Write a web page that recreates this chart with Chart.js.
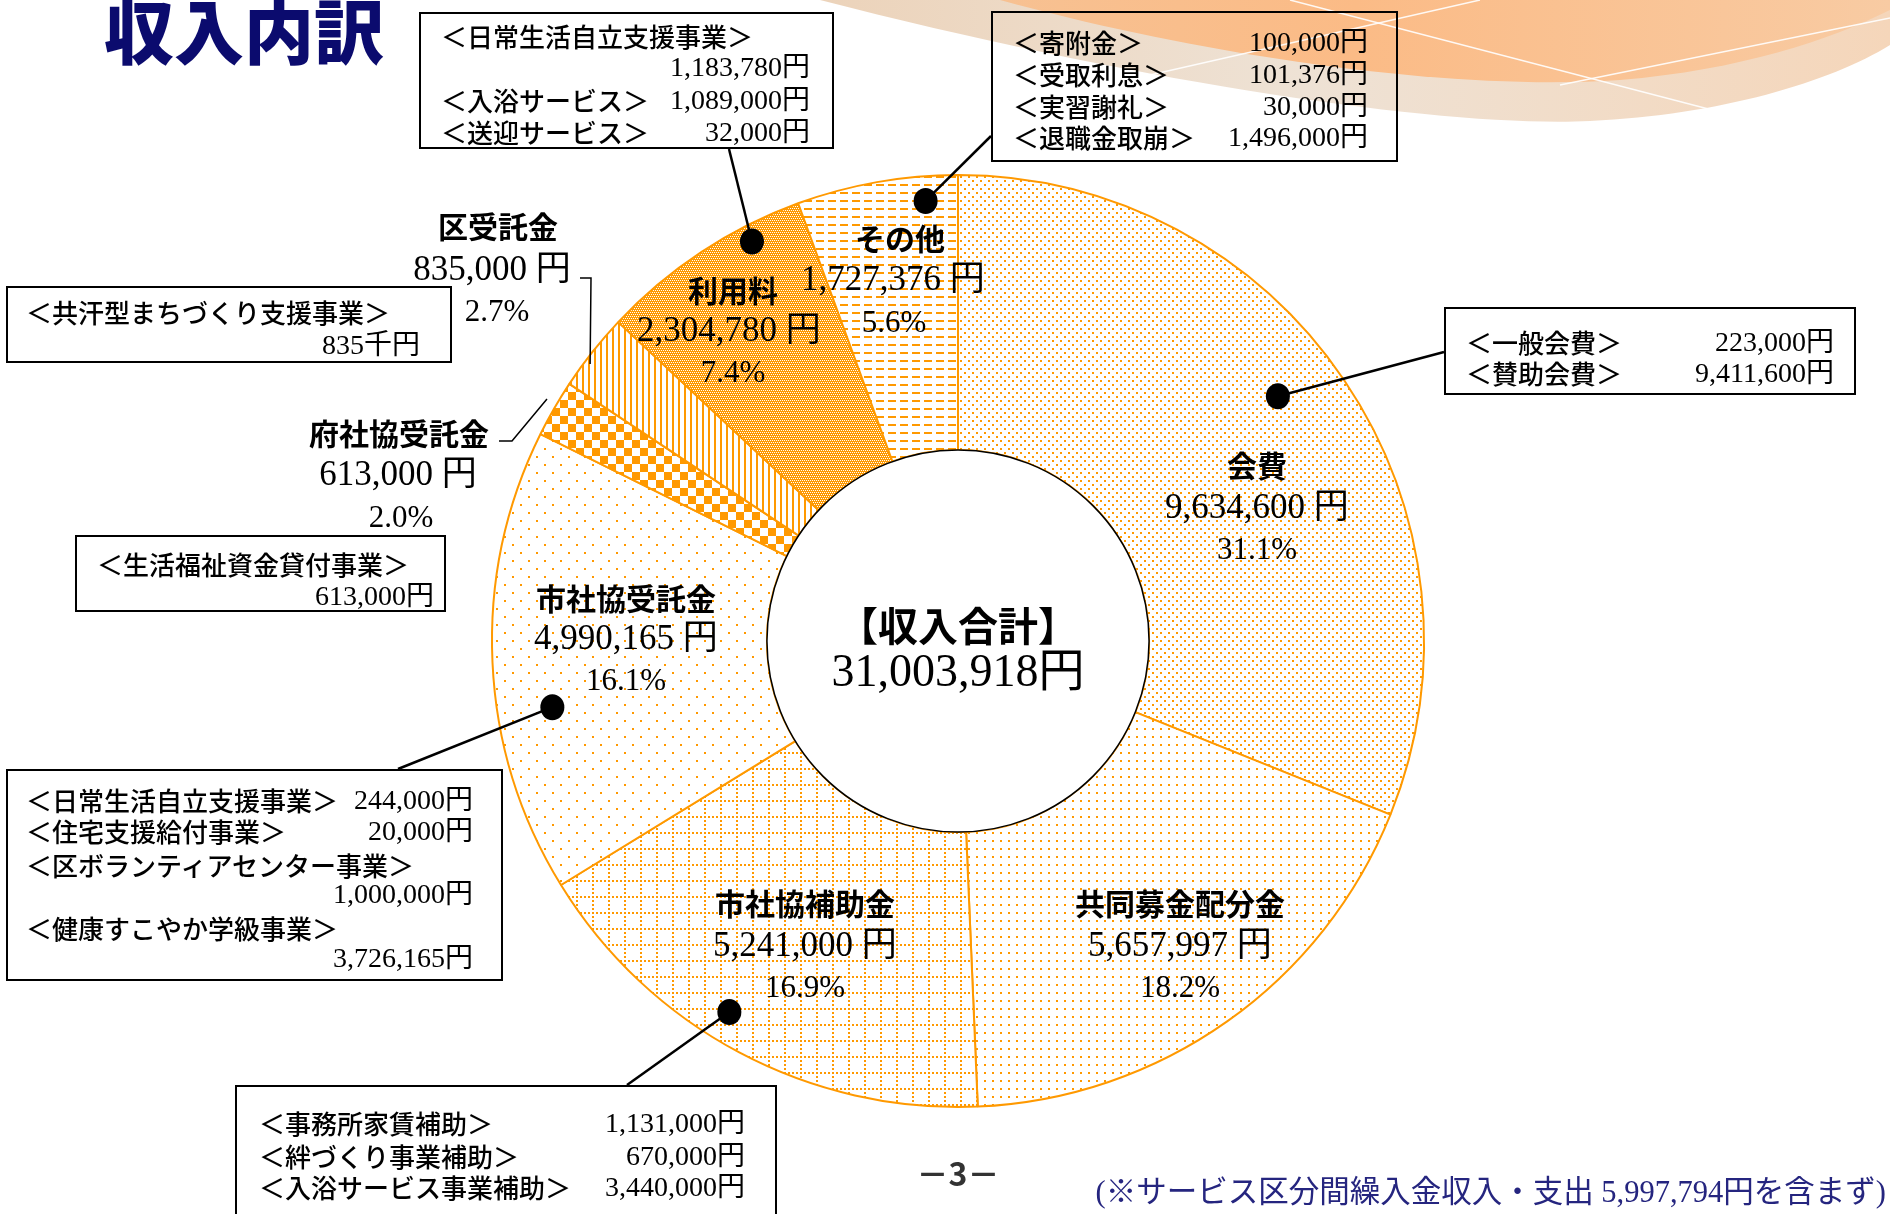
<!DOCTYPE html>
<html lang="ja">
<head>
<meta charset="utf-8">
<title>収入内訳</title>
<script src="https://cdn.jsdelivr.net/npm/chart.js@4.4.1/dist/chart.umd.min.js"></script>
<style>
  html, body { margin: 0; padding: 0; background: #fff; }
  #page { position: relative; width: 1890px; height: 1214px; overflow: hidden;
          font-family: "Noto Sans CJK JP", sans-serif; color: #000; }
  #chart { position: absolute; left: 0; top: 0; }
  .t { position: absolute; white-space: nowrap; line-height: 1; }
  .c { transform: translate(-50%, -50%); }
  .num { font-family: "Liberation Serif", "Noto Sans CJK JP", serif; }
  .name { font-weight: 700; font-size: 30px; }
  .val { font-size: 35px; }
  .pct { font-size: 31px; }
  .box { position: absolute; border: 2px solid #000; box-sizing: border-box; }
  .box .lab { position: absolute; transform: translateY(-50%); font-size: 26px; font-weight: 500; white-space: nowrap; line-height: 1; }
  .box .amt { position: absolute; transform: translateY(-50%); font-size: 28px; white-space: nowrap; line-height: 1; }
  #title { left: 104px; top: -6px; font-size: 70px; font-weight: 900; color: #0b0b6e; }
</style>
</head>
<body>
<div id="page">
  <canvas id="chart" width="1890" height="1214"></canvas>
  <div id="title" class="t">収入内訳</div>
</div>
<script>
  'use strict';

  // ---------------------------------------------------------------
  // Data
  // ---------------------------------------------------------------
  const categories = ['会費', '共同募金配分金', '市社協補助金', '市社協受託金', '府社協受託金', '区受託金', '利用料', 'その他'];
  const amounts = [9634600, 5657997, 5241000, 4990165, 613000, 835000, 2304780, 1727376];
  const totalTitle = '【収入合計】';

  const kaihiItems = ['＜一般会費＞', '＜賛助会費＞'];
  const kaihiAmounts = [223000, 9411600];
  const hojoItems = ['＜事務所家賃補助＞', '＜絆づくり事業補助＞', '＜入浴サービス事業補助＞'];
  const hojoAmounts = [1131000, 670000, 3440000];
  const itakuItems = ['＜日常生活自立支援事業＞', '＜住宅支援給付事業＞', '＜区ボランティアセンター事業＞', '＜健康すこやか学級事業＞'];
  const itakuAmounts = [244000, 20000, 1000000, 3726165];
  const fuItems = ['＜生活福祉資金貸付事業＞'];
  const fuAmounts = [613000];
  const kuItems = ['＜共汗型まちづくり支援事業＞'];
  const kuAmountsThousand = [835];
  const riyoItems = ['＜日常生活自立支援事業＞', '＜入浴サービス＞', '＜送迎サービス＞'];
  const riyoAmounts = [1183780, 1089000, 32000];
  const sonotaItems = ['＜寄附金＞', '＜受取利息＞', '＜実習謝礼＞', '＜退職金取崩＞'];
  const sonotaAmounts = [100000, 101376, 30000, 1496000];

  const footNote = '(※サービス区分間繰入金収入・支出 5,997,794円を含まず)';
  const pageNo = '－3－';

  // ---------------------------------------------------------------
  // Helpers
  // ---------------------------------------------------------------
  const ORANGE = '#ff9900';
  const total = amounts.reduce(function (s, v) { return s + v; }, 0);
  function yen(v) { return v.toLocaleString('en-US'); }
  function pct(v) { return (v / total * 100).toFixed(1) + '%'; }

  const page = document.getElementById('page');
  function addText(html, cls, x, y, style) {
    const d = document.createElement('div');
    d.className = 't ' + cls;
    d.style.left = x + 'px';
    d.style.top = y + 'px';
    if (style) d.style.cssText += style;
    d.innerHTML = html;
    page.appendChild(d);
    return d;
  }

  // Slice labels: [name center, value center, percent center]
  const labelPos = [
    [[1257, 464], [1257, 506], [1257, 548]],
    [[1180, 902], [1180, 944], [1180, 986]],
    [[805, 902], [805, 944], [805, 986]],
    [[626, 597], [626, 637], [626, 679]],
    [[399, 432], [398, 473], [401, 516]],
    [[498, 225], [492, 268], [497, 310]],
    [[733, 289], [729, 329], [733, 371]],
    [[900, 237], [893, 278], [894, 321]]
  ];
  categories.forEach(function (name, i) {
    const p = labelPos[i];
    addText(name, 'c name', p[0][0], p[0][1]);
    addText(yen(amounts[i]) + ' 円', 'c num val', p[1][0], p[1][1]);
    addText(pct(amounts[i]), 'c num pct', p[2][0], p[2][1]);
  });

  addText(totalTitle, 'c', 958, 624, 'font-size:40px;font-weight:700;');
  addText(yen(total) + '円', 'c num', 958, 671, 'font-size:46px;');
  addText(pageNo, 'c', 958, 1172, 'font-size:32px;font-weight:700;color:#333;');
  addText(footNote, 'num', 0, 1177, 'font-size:30.5px;color:#25257f;left:auto;right:4px;');

  // Callout boxes
  function addBox(cfg, items, amountTexts) {
    const b = document.createElement('div');
    b.className = 'box';
    b.style.left = cfg.x + 'px';
    b.style.top = cfg.y + 'px';
    b.style.width = cfg.w + 'px';
    b.style.height = cfg.h + 'px';
    cfg.rows.forEach(function (r) {
      if (r.item !== undefined) {
        const l = document.createElement('div');
        l.className = 'lab';
        l.style.left = cfg.pl + 'px';
        l.style.top = r.y + 'px';
        l.textContent = items[r.item];
        b.appendChild(l);
      }
      if (r.amt !== undefined) {
        const a = document.createElement('div');
        a.className = 'amt num';
        a.style.right = cfg.pr + 'px';
        a.style.top = r.y + 'px';
        a.textContent = amountTexts[r.amt];
        b.appendChild(a);
      }
    });
    page.appendChild(b);
  }
  function yenList(arr) { return arr.map(function (v) { return yen(v) + '円'; }); }

  addBox({ x: 419, y: 12, w: 415, h: 137, pl: 20, pr: 22,
    rows: [{ y: 22, item: 0 }, { y: 53, amt: 0 }, { y: 86, item: 1, amt: 1 }, { y: 118, item: 2, amt: 2 }] },
    riyoItems, yenList(riyoAmounts));
  addBox({ x: 991, y: 11, w: 407, h: 151, pl: 20, pr: 28,
    rows: [{ y: 29, item: 0, amt: 0 }, { y: 61, item: 1, amt: 1 }, { y: 93, item: 2, amt: 2 }, { y: 124, item: 3, amt: 3 }] },
    sonotaItems, yenList(sonotaAmounts));
  addBox({ x: 1444, y: 307, w: 412, h: 88, pl: 20, pr: 20,
    rows: [{ y: 33, item: 0, amt: 0 }, { y: 64, item: 1, amt: 1 }] },
    kaihiItems, yenList(kaihiAmounts));
  addBox({ x: 6, y: 286, w: 446, h: 77, pl: 18, pr: 30,
    rows: [{ y: 24, item: 0 }, { y: 57, amt: 0 }] },
    kuItems, kuAmountsThousand.map(function (v) { return v + '千円'; }));
  addBox({ x: 75, y: 535, w: 371, h: 77, pl: 20, pr: 10,
    rows: [{ y: 27, item: 0 }, { y: 59, amt: 0 }] },
    fuItems, yenList(fuAmounts));
  addBox({ x: 6, y: 769, w: 497, h: 212, pl: 18, pr: 28,
    rows: [{ y: 29, item: 0, amt: 0 }, { y: 60, item: 1, amt: 1 }, { y: 94, item: 2 }, { y: 123, amt: 2 }, { y: 157, item: 3 }, { y: 187, amt: 3 }] },
    itakuItems, yenList(itakuAmounts));
  addBox({ x: 235, y: 1085, w: 542, h: 150, pl: 22, pr: 30,
    rows: [{ y: 36, item: 0, amt: 0 }, { y: 69, item: 1, amt: 1 }, { y: 100, item: 2, amt: 2 }] },
    hojoItems, yenList(hojoAmounts));

  // ---------------------------------------------------------------
  // Fill patterns (orange on white)
  // ---------------------------------------------------------------
  function makePattern(w, h, draw) {
    const c = document.createElement('canvas');
    c.width = w; c.height = h;
    const g = c.getContext('2d');
    g.fillStyle = '#fff';
    g.fillRect(0, 0, w, h);
    g.fillStyle = ORANGE;
    draw(g);
    return g.createPattern(c, 'repeat');
  }
  const patterns = [
    makePattern(8, 8, function (g) { g.fillRect(0, 0, 2, 2); g.fillRect(4, 4, 2, 2); }),
    makePattern(8, 8, function (g) { g.fillRect(0, 0, 2, 2); }),
    makePattern(16, 16, function (g) {
      for (let k = 0; k < 16; k += 4) { g.fillRect(k, 0, 2, 2); g.fillRect(0, k, 2, 2); }
    }),
    makePattern(16, 16, function (g) { g.fillRect(0, 0, 2, 2); g.fillRect(8, 8, 2, 2); }),
    makePattern(16, 16, function (g) { g.fillRect(0, 0, 8, 8); g.fillRect(8, 8, 8, 8); }),
    makePattern(6, 1, function (g) { g.fillRect(0, 0, 2, 1); }),
    makePattern(4, 4, function (g) {
      g.fillRect(0, 0, 4, 4);
      g.fillStyle = '#fff';
      g.fillRect(0, 0, 1, 1); g.fillRect(2, 0, 1, 1); g.fillRect(1, 2, 1, 1); g.fillRect(3, 2, 1, 1);
    }),
    makePattern(12, 8, function (g) { g.fillRect(0, 0, 8, 2); })
  ];

  // ---------------------------------------------------------------
  // Plugins: background swoosh, centre hole, leader lines
  // ---------------------------------------------------------------
  const swooshPlugin = {
    id: 'swoosh',
    beforeDraw(chart) {
      const ctx = chart.ctx;
      ctx.save();
      ctx.beginPath();
      ctx.moveTo(820, 0);
      ctx.bezierCurveTo(1150, 85, 1450, 128, 1590, 121);
      ctx.bezierCurveTo(1720, 115, 1830, 82, 1890, 45);
      ctx.lineTo(1890, 0);
      ctx.closePath();
      let g = ctx.createLinearGradient(820, 0, 1890, 0);
      g.addColorStop(0, '#ecd3ba');
      g.addColorStop(0.45, '#eee2d5');
      g.addColorStop(1, '#f5d6ba');
      ctx.fillStyle = g;
      ctx.fill();

      ctx.beginPath();
      ctx.moveTo(1000, 0);
      ctx.bezierCurveTo(1200, 55, 1450, 92, 1620, 80);
      ctx.bezierCurveTo(1740, 70, 1830, 40, 1890, 10);
      ctx.lineTo(1890, 0);
      ctx.closePath();
      g = ctx.createLinearGradient(1000, 0, 1890, 0);
      g.addColorStop(0, '#f7c192');
      g.addColorStop(0.4, '#fbbb86');
      g.addColorStop(1, '#f8cba3');
      ctx.fillStyle = g;
      ctx.fill();

      ctx.strokeStyle = 'rgba(255,255,255,0.9)';
      ctx.lineWidth = 1.5;
      [[1150, 75, 1480, 0], [1290, 0, 1720, 112], [1560, 85, 1890, 18]].forEach(function (l) {
        ctx.beginPath(); ctx.moveTo(l[0], l[1]); ctx.lineTo(l[2], l[3]); ctx.stroke();
      });
      ctx.restore();
    }
  };

  // Leader lines: slice index, position inside slice (t along angle, f along radius), path to label
  const leaders = [
    { index: 6, t: 0.73, f: 0.94, dot: true, path: [[729, 149]] },
    { index: 7, t: 0.79, f: 0.91, dot: true, path: [[991, 136]] },
    { index: 0, t: 0.47, f: 0.77, dot: true, path: [[1444, 352]] },
    { index: 3, t: 0.385, f: 0.80, dot: true, path: [[398, 769]] },
    { index: 2, t: 0.56, f: 0.89, dot: true, path: [[627, 1085]] },
    { index: 5, t: 0.36, f: 0.98, dot: false, path: [[591, 278], [580, 278]] },
    { index: 4, t: 0.58, f: 1.04, dot: false, path: [[512, 441], [499, 441]] }
  ];

  const overlayPlugin = {
    id: 'overlay',
    afterDatasetsDraw(chart) {
      const ctx = chart.ctx;
      const arcs = chart.getDatasetMeta(0).data;
      const a0 = arcs[0];
      ctx.save();
      ctx.beginPath();
      ctx.arc(a0.x, a0.y, a0.innerRadius, 0, Math.PI * 2);
      ctx.fillStyle = '#fff';
      ctx.fill();
      ctx.lineWidth = 1.5;
      ctx.strokeStyle = '#000';
      ctx.stroke();

      leaders.forEach(function (ld) {
        const a = arcs[ld.index];
        const ang = a.startAngle + ld.t * (a.endAngle - a.startAngle);
        const r = a.innerRadius + ld.f * (a.outerRadius - a.innerRadius);
        const px = a.x + r * Math.cos(ang);
        const py = a.y + r * Math.sin(ang);
        ctx.beginPath();
        ctx.moveTo(px, py);
        ld.path.forEach(function (p) { ctx.lineTo(p[0], p[1]); });
        ctx.lineWidth = ld.dot ? 2.5 : 1.5;
        ctx.strokeStyle = '#000';
        ctx.stroke();
        if (ld.dot) {
          ctx.beginPath();
          ctx.ellipse(px, py, 12, 13, 0, 0, Math.PI * 2);
          ctx.fillStyle = '#000';
          ctx.fill();
        }
      });
      ctx.restore();
    }
  };

  // ---------------------------------------------------------------
  // Chart
  // ---------------------------------------------------------------
  new Chart(document.getElementById('chart').getContext('2d'), {
    type: 'doughnut',
    data: {
      labels: categories,
      datasets: [{
        data: amounts,
        backgroundColor: patterns,
        borderColor: ORANGE,
        borderWidth: 2
      }]
    },
    options: {
      responsive: false,
      animation: false,
      devicePixelRatio: 1,
      events: [],
      cutout: '41%',
      rotation: 0,
      layout: { padding: { left: 491, right: 465, top: 174, bottom: 106 } },
      plugins: { legend: { display: false }, tooltip: { enabled: false } }
    },
    plugins: [swooshPlugin, overlayPlugin]
  });
</script>
</body>
</html>
